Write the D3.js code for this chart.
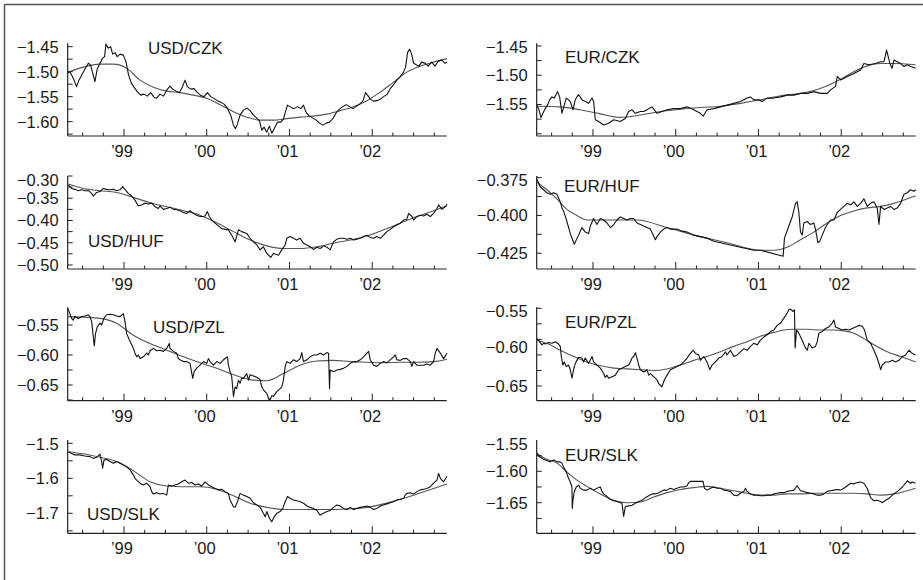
<!DOCTYPE html>
<html><head><meta charset="utf-8">
<script src="https://cdn.jsdelivr.net/npm/d3@7"></script>
<style>
body{margin:0;background:#fff}
svg{display:block}
text{font-family:"Liberation Sans",Arial,Helvetica,sans-serif;fill:#1a1a1a}
</style>
</head><body>
<svg id="chart" width="923" height="580"></svg>
<script>
// ---------- data (decimal year, log exchange rate) ----------
const yearTicks = [1999, 2000, 2001, 2002];
const yearLabels = ["’99", "’00", "’01", "’02"];
const timeDomain = [1998.32, 2002.90];

const usdCzk = [[1998.319,-1.503],[1998.347,-1.500],[1998.387,-1.513],[1998.427,-1.530],[1998.456,-1.517],[1998.488,-1.507],[1998.528,-1.495],[1998.569,-1.483],[1998.597,-1.487],[1998.629,-1.507],[1998.649,-1.520],[1998.677,-1.495],[1998.710,-1.483],[1998.742,-1.473],[1998.766,-1.470],[1998.782,-1.445],[1998.810,-1.453],[1998.839,-1.450],[1998.863,-1.465],[1998.891,-1.462],[1998.919,-1.470],[1998.952,-1.465],[1998.992,-1.467],[1999.024,-1.480],[1999.056,-1.507],[1999.089,-1.523],[1999.121,-1.531],[1999.161,-1.540],[1999.202,-1.547],[1999.242,-1.545],[1999.282,-1.549],[1999.323,-1.542],[1999.363,-1.551],[1999.395,-1.553],[1999.435,-1.545],[1999.476,-1.549],[1999.516,-1.537],[1999.556,-1.529],[1999.589,-1.535],[1999.629,-1.539],[1999.669,-1.542],[1999.710,-1.529],[1999.738,-1.517],[1999.766,-1.530],[1999.806,-1.535],[1999.847,-1.534],[1999.887,-1.542],[1999.927,-1.547],[1999.968,-1.550],[2000.008,-1.542],[2000.048,-1.550],[2000.089,-1.554],[2000.129,-1.558],[2000.169,-1.561],[2000.210,-1.565],[2000.250,-1.573],[2000.290,-1.587],[2000.323,-1.607],[2000.347,-1.614],[2000.371,-1.605],[2000.403,-1.587],[2000.444,-1.577],[2000.484,-1.573],[2000.524,-1.578],[2000.565,-1.587],[2000.605,-1.593],[2000.637,-1.598],[2000.665,-1.617],[2000.694,-1.611],[2000.726,-1.621],[2000.758,-1.609],[2000.786,-1.623],[2000.815,-1.614],[2000.855,-1.601],[2000.895,-1.601],[2000.927,-1.595],[2000.952,-1.580],[2000.976,-1.567],[2001.016,-1.571],[2001.056,-1.574],[2001.097,-1.570],[2001.137,-1.574],[2001.169,-1.567],[2001.202,-1.582],[2001.242,-1.589],[2001.282,-1.593],[2001.323,-1.597],[2001.363,-1.603],[2001.403,-1.607],[2001.444,-1.603],[2001.484,-1.601],[2001.524,-1.594],[2001.565,-1.582],[2001.605,-1.575],[2001.645,-1.570],[2001.685,-1.566],[2001.726,-1.570],[2001.766,-1.574],[2001.806,-1.570],[2001.847,-1.565],[2001.887,-1.559],[2001.919,-1.542],[2001.944,-1.547],[2001.976,-1.555],[2002.016,-1.559],[2002.056,-1.558],[2002.097,-1.555],[2002.137,-1.550],[2002.177,-1.546],[2002.218,-1.534],[2002.258,-1.526],[2002.298,-1.517],[2002.339,-1.510],[2002.379,-1.501],[2002.403,-1.491],[2002.427,-1.462],[2002.452,-1.455],[2002.476,-1.465],[2002.500,-1.483],[2002.532,-1.486],[2002.565,-1.489],[2002.597,-1.481],[2002.637,-1.483],[2002.677,-1.489],[2002.718,-1.481],[2002.758,-1.489],[2002.798,-1.479],[2002.839,-1.477],[2002.879,-1.483],[2002.903,-1.481]];
const usdCzkTrend = [[1998.319,-1.502],[1998.508,-1.491],[1998.710,-1.485],[1998.871,-1.485],[1999.032,-1.493],[1999.194,-1.517],[1999.355,-1.531],[1999.516,-1.539],[1999.677,-1.542],[1999.839,-1.547],[2000.000,-1.553],[2000.161,-1.566],[2000.323,-1.580],[2000.484,-1.591],[2000.645,-1.597],[2000.806,-1.597],[2000.968,-1.594],[2001.129,-1.591],[2001.290,-1.589],[2001.452,-1.585],[2001.613,-1.578],[2001.774,-1.570],[2001.935,-1.558],[2002.097,-1.541],[2002.258,-1.521],[2002.419,-1.501],[2002.581,-1.489],[2002.742,-1.481],[2002.903,-1.474]];

const eurCzk = [[1998.322,-1.551],[1998.347,-1.559],[1998.371,-1.572],[1998.395,-1.565],[1998.423,-1.557],[1998.451,-1.551],[1998.476,-1.542],[1998.504,-1.537],[1998.532,-1.539],[1998.572,-1.528],[1998.597,-1.537],[1998.625,-1.565],[1998.653,-1.551],[1998.677,-1.539],[1998.705,-1.542],[1998.726,-1.545],[1998.758,-1.559],[1998.786,-1.542],[1998.806,-1.537],[1998.826,-1.533],[1998.867,-1.542],[1998.907,-1.545],[1998.947,-1.548],[1998.988,-1.539],[1999.008,-1.545],[1999.028,-1.576],[1999.068,-1.579],[1999.129,-1.585],[1999.189,-1.582],[1999.250,-1.576],[1999.330,-1.579],[1999.391,-1.574],[1999.431,-1.562],[1999.472,-1.559],[1999.512,-1.565],[1999.573,-1.562],[1999.613,-1.562],[1999.653,-1.559],[1999.713,-1.554],[1999.774,-1.565],[1999.834,-1.562],[1999.895,-1.559],[1999.976,-1.557],[2000.056,-1.557],[2000.137,-1.554],[2000.218,-1.559],[2000.298,-1.565],[2000.331,-1.570],[2000.379,-1.559],[2000.460,-1.557],[2000.540,-1.554],[2000.621,-1.551],[2000.702,-1.548],[2000.782,-1.545],[2000.863,-1.539],[2000.903,-1.537],[2000.943,-1.542],[2001.004,-1.542],[2001.044,-1.545],[2001.105,-1.539],[2001.185,-1.539],[2001.266,-1.537],[2001.347,-1.534],[2001.427,-1.534],[2001.508,-1.531],[2001.589,-1.531],[2001.669,-1.528],[2001.750,-1.531],[2001.831,-1.531],[2001.871,-1.525],[2001.931,-1.519],[2001.952,-1.502],[2001.992,-1.508],[2002.073,-1.502],[2002.153,-1.497],[2002.234,-1.491],[2002.274,-1.480],[2002.335,-1.482],[2002.415,-1.480],[2002.476,-1.477],[2002.516,-1.477],[2002.548,-1.457],[2002.589,-1.480],[2002.615,-1.488],[2002.637,-1.474],[2002.677,-1.477],[2002.718,-1.480],[2002.758,-1.485],[2002.798,-1.482],[2002.839,-1.485],[2002.899,-1.488]];
const eurCzkTrend = [[1998.322,-1.553],[1998.605,-1.554],[1998.847,-1.559],[1999.089,-1.566],[1999.330,-1.572],[1999.573,-1.568],[1999.814,-1.562],[2000.056,-1.558],[2000.298,-1.555],[2000.540,-1.553],[2000.782,-1.548],[2001.024,-1.542],[2001.266,-1.535],[2001.508,-1.531],[2001.669,-1.526],[2001.831,-1.518],[2001.992,-1.507],[2002.153,-1.494],[2002.314,-1.484],[2002.476,-1.480],[2002.637,-1.480],[2002.899,-1.482]];

const usdHuf = [[1998.327,-0.320],[1998.367,-0.328],[1998.407,-0.330],[1998.448,-0.333],[1998.488,-0.331],[1998.528,-0.333],[1998.569,-0.333],[1998.609,-0.339],[1998.629,-0.345],[1998.669,-0.337],[1998.710,-0.335],[1998.750,-0.328],[1998.790,-0.330],[1998.831,-0.331],[1998.871,-0.330],[1998.911,-0.333],[1998.952,-0.331],[1998.984,-0.324],[1999.012,-0.330],[1999.052,-0.339],[1999.093,-0.345],[1999.133,-0.354],[1999.153,-0.361],[1999.173,-0.367],[1999.214,-0.365],[1999.254,-0.361],[1999.294,-0.363],[1999.335,-0.361],[1999.375,-0.369],[1999.415,-0.373],[1999.435,-0.367],[1999.476,-0.375],[1999.516,-0.373],[1999.556,-0.370],[1999.597,-0.375],[1999.637,-0.376],[1999.677,-0.378],[1999.718,-0.382],[1999.758,-0.384],[1999.798,-0.378],[1999.839,-0.384],[1999.879,-0.388],[1999.919,-0.391],[1999.960,-0.391],[1999.980,-0.390],[2000.008,-0.380],[2000.032,-0.391],[2000.060,-0.399],[2000.101,-0.406],[2000.141,-0.412],[2000.181,-0.418],[2000.222,-0.420],[2000.262,-0.421],[2000.302,-0.433],[2000.343,-0.448],[2000.383,-0.421],[2000.423,-0.425],[2000.484,-0.429],[2000.524,-0.440],[2000.565,-0.448],[2000.605,-0.455],[2000.645,-0.466],[2000.685,-0.459],[2000.726,-0.474],[2000.774,-0.483],[2000.806,-0.474],[2000.867,-0.478],[2000.907,-0.466],[2000.948,-0.455],[2000.968,-0.440],[2001.008,-0.436],[2001.048,-0.440],[2001.089,-0.444],[2001.129,-0.440],[2001.169,-0.451],[2001.210,-0.455],[2001.250,-0.459],[2001.290,-0.465],[2001.331,-0.460],[2001.371,-0.463],[2001.411,-0.457],[2001.452,-0.460],[2001.492,-0.466],[2001.532,-0.448],[2001.573,-0.442],[2001.613,-0.440],[2001.653,-0.440],[2001.694,-0.442],[2001.734,-0.440],[2001.774,-0.444],[2001.815,-0.442],[2001.855,-0.440],[2001.895,-0.436],[2001.935,-0.433],[2001.976,-0.438],[2002.016,-0.440],[2002.056,-0.436],[2002.097,-0.440],[2002.137,-0.433],[2002.177,-0.425],[2002.218,-0.420],[2002.258,-0.414],[2002.298,-0.410],[2002.339,-0.406],[2002.379,-0.399],[2002.419,-0.397],[2002.440,-0.384],[2002.480,-0.391],[2002.500,-0.399],[2002.540,-0.391],[2002.581,-0.388],[2002.621,-0.390],[2002.661,-0.386],[2002.702,-0.391],[2002.742,-0.384],[2002.782,-0.373],[2002.802,-0.365],[2002.843,-0.375],[2002.883,-0.369],[2002.903,-0.363]];
const usdHufTrend = [[1998.327,-0.318],[1998.508,-0.328],[1998.710,-0.333],[1998.911,-0.337],[1999.113,-0.348],[1999.315,-0.360],[1999.516,-0.369],[1999.718,-0.378],[1999.919,-0.388],[2000.121,-0.405],[2000.323,-0.425],[2000.524,-0.444],[2000.726,-0.457],[2000.927,-0.463],[2001.129,-0.463],[2001.331,-0.459],[2001.532,-0.451],[2001.734,-0.444],[2001.935,-0.435],[2002.137,-0.421],[2002.339,-0.406],[2002.540,-0.391],[2002.742,-0.378],[2002.903,-0.367]];

const eurHuf = [[1998.322,-0.376],[1998.363,-0.381],[1998.403,-0.383],[1998.443,-0.385],[1998.484,-0.386],[1998.524,-0.385],[1998.564,-0.386],[1998.605,-0.391],[1998.625,-0.395],[1998.645,-0.397],[1998.685,-0.404],[1998.726,-0.412],[1998.774,-0.419],[1998.826,-0.413],[1998.867,-0.408],[1998.907,-0.411],[1998.947,-0.412],[1998.968,-0.407],[1999.008,-0.402],[1999.048,-0.406],[1999.089,-0.402],[1999.129,-0.403],[1999.169,-0.405],[1999.210,-0.408],[1999.250,-0.406],[1999.290,-0.403],[1999.330,-0.401],[1999.371,-0.402],[1999.411,-0.403],[1999.451,-0.402],[1999.492,-0.402],[1999.532,-0.405],[1999.573,-0.406],[1999.613,-0.407],[1999.653,-0.408],[1999.693,-0.409],[1999.754,-0.416],[1999.774,-0.414],[1999.814,-0.411],[1999.855,-0.409],[1999.895,-0.408],[1999.935,-0.409],[1999.976,-0.409],[2000.016,-0.409],[2000.056,-0.410],[2000.137,-0.411],[2000.218,-0.413],[2000.298,-0.414],[2000.379,-0.415],[2000.460,-0.417],[2000.540,-0.418],[2000.621,-0.419],[2000.702,-0.420],[2000.782,-0.421],[2000.863,-0.422],[2000.943,-0.423],[2001.024,-0.423],[2001.298,-0.427],[2001.314,-0.415],[2001.367,-0.407],[2001.407,-0.401],[2001.448,-0.392],[2001.468,-0.391],[2001.488,-0.398],[2001.508,-0.411],[2001.528,-0.413],[2001.548,-0.405],[2001.589,-0.404],[2001.629,-0.406],[2001.669,-0.405],[2001.689,-0.409],[2001.718,-0.418],[2001.742,-0.417],[2001.770,-0.413],[2001.810,-0.408],[2001.831,-0.406],[2001.871,-0.403],[2001.911,-0.403],[2001.952,-0.398],[2001.992,-0.396],[2002.032,-0.394],[2002.073,-0.392],[2002.113,-0.393],[2002.153,-0.391],[2002.194,-0.394],[2002.234,-0.392],[2002.274,-0.389],[2002.314,-0.394],[2002.355,-0.392],[2002.395,-0.391],[2002.435,-0.395],[2002.456,-0.406],[2002.476,-0.394],[2002.516,-0.396],[2002.556,-0.395],[2002.597,-0.394],[2002.637,-0.396],[2002.677,-0.395],[2002.718,-0.392],[2002.758,-0.386],[2002.798,-0.385],[2002.839,-0.383],[2002.879,-0.384],[2002.899,-0.383]];
const eurHufTrend = [[1998.322,-0.378],[1998.443,-0.383],[1998.564,-0.389],[1998.685,-0.396],[1998.806,-0.400],[1998.927,-0.403],[1999.008,-0.403],[1999.532,-0.403],[1999.895,-0.408],[2000.218,-0.413],[2000.621,-0.418],[2001.024,-0.423],[2001.185,-0.423],[2001.347,-0.421],[2001.508,-0.416],[2001.669,-0.411],[2001.831,-0.405],[2001.992,-0.400],[2002.153,-0.397],[2002.314,-0.395],[2002.476,-0.394],[2002.637,-0.392],[2002.798,-0.389],[2002.899,-0.387]];

const usdPzl = [[1998.319,-0.522],[1998.347,-0.531],[1998.367,-0.539],[1998.387,-0.542],[1998.407,-0.536],[1998.448,-0.539],[1998.488,-0.536],[1998.528,-0.535],[1998.569,-0.533],[1998.589,-0.536],[1998.609,-0.544],[1998.629,-0.569],[1998.641,-0.585],[1998.657,-0.564],[1998.677,-0.553],[1998.710,-0.547],[1998.730,-0.550],[1998.758,-0.539],[1998.790,-0.533],[1998.831,-0.532],[1998.871,-0.533],[1998.911,-0.535],[1998.952,-0.536],[1998.992,-0.531],[1999.012,-0.544],[1999.032,-0.564],[1999.065,-0.575],[1999.093,-0.583],[1999.113,-0.589],[1999.133,-0.597],[1999.153,-0.603],[1999.173,-0.600],[1999.194,-0.606],[1999.234,-0.603],[1999.274,-0.597],[1999.294,-0.600],[1999.315,-0.593],[1999.355,-0.589],[1999.395,-0.593],[1999.435,-0.592],[1999.476,-0.594],[1999.516,-0.589],[1999.548,-0.581],[1999.556,-0.589],[1999.597,-0.594],[1999.637,-0.597],[1999.657,-0.606],[1999.677,-0.608],[1999.718,-0.611],[1999.758,-0.611],[1999.798,-0.614],[1999.831,-0.639],[1999.847,-0.628],[1999.879,-0.622],[1999.919,-0.617],[1999.960,-0.611],[2000.000,-0.614],[2000.020,-0.606],[2000.040,-0.611],[2000.081,-0.617],[2000.121,-0.611],[2000.161,-0.614],[2000.202,-0.608],[2000.250,-0.603],[2000.262,-0.617],[2000.282,-0.628],[2000.302,-0.636],[2000.323,-0.669],[2000.343,-0.653],[2000.363,-0.656],[2000.383,-0.642],[2000.403,-0.647],[2000.423,-0.639],[2000.444,-0.639],[2000.484,-0.631],[2000.504,-0.642],[2000.524,-0.633],[2000.565,-0.635],[2000.605,-0.637],[2000.645,-0.641],[2000.665,-0.653],[2000.685,-0.658],[2000.726,-0.664],[2000.746,-0.672],[2000.766,-0.675],[2000.786,-0.668],[2000.806,-0.669],[2000.847,-0.661],[2000.887,-0.656],[2000.907,-0.653],[2000.927,-0.642],[2000.948,-0.619],[2000.968,-0.611],[2001.008,-0.614],[2001.048,-0.608],[2001.089,-0.611],[2001.129,-0.606],[2001.149,-0.596],[2001.169,-0.611],[2001.210,-0.608],[2001.250,-0.603],[2001.290,-0.600],[2001.331,-0.600],[2001.371,-0.597],[2001.411,-0.600],[2001.452,-0.596],[2001.472,-0.597],[2001.484,-0.656],[2001.492,-0.625],[2001.532,-0.628],[2001.573,-0.625],[2001.613,-0.624],[2001.653,-0.622],[2001.694,-0.619],[2001.734,-0.614],[2001.774,-0.611],[2001.815,-0.611],[2001.855,-0.608],[2001.895,-0.603],[2001.935,-0.597],[2001.956,-0.594],[2001.976,-0.608],[2002.016,-0.617],[2002.056,-0.619],[2002.097,-0.614],[2002.137,-0.611],[2002.177,-0.613],[2002.218,-0.608],[2002.258,-0.603],[2002.278,-0.600],[2002.298,-0.608],[2002.339,-0.609],[2002.379,-0.606],[2002.419,-0.606],[2002.460,-0.611],[2002.480,-0.619],[2002.500,-0.611],[2002.540,-0.617],[2002.581,-0.617],[2002.621,-0.617],[2002.661,-0.615],[2002.702,-0.617],[2002.742,-0.611],[2002.762,-0.597],[2002.782,-0.589],[2002.823,-0.597],[2002.863,-0.606],[2002.903,-0.597]];
const usdPzlTrend = [[1998.319,-0.536],[1998.508,-0.537],[1998.710,-0.539],[1998.911,-0.547],[1999.113,-0.567],[1999.315,-0.581],[1999.516,-0.592],[1999.718,-0.603],[1999.919,-0.613],[2000.121,-0.622],[2000.323,-0.633],[2000.524,-0.641],[2000.726,-0.643],[2000.927,-0.631],[2001.129,-0.617],[2001.331,-0.610],[2001.532,-0.609],[2001.734,-0.611],[2001.935,-0.612],[2002.137,-0.613],[2002.339,-0.612],[2002.540,-0.612],[2002.742,-0.611],[2002.903,-0.607]];

const eurPzl = [[1998.322,-0.589],[1998.355,-0.593],[1998.383,-0.597],[1998.403,-0.595],[1998.423,-0.596],[1998.464,-0.594],[1998.504,-0.595],[1998.544,-0.593],[1998.584,-0.596],[1998.605,-0.599],[1998.617,-0.612],[1998.637,-0.623],[1998.653,-0.619],[1998.677,-0.625],[1998.705,-0.623],[1998.726,-0.629],[1998.746,-0.640],[1998.766,-0.629],[1998.786,-0.621],[1998.806,-0.617],[1998.826,-0.613],[1998.867,-0.614],[1998.887,-0.619],[1998.907,-0.614],[1998.947,-0.621],[1998.988,-0.612],[1999.008,-0.619],[1999.048,-0.623],[1999.089,-0.627],[1999.129,-0.634],[1999.149,-0.639],[1999.169,-0.636],[1999.189,-0.640],[1999.230,-0.638],[1999.270,-0.636],[1999.310,-0.629],[1999.351,-0.627],[1999.391,-0.625],[1999.431,-0.623],[1999.451,-0.619],[1999.472,-0.614],[1999.492,-0.612],[1999.512,-0.607],[1999.532,-0.614],[1999.552,-0.623],[1999.573,-0.629],[1999.613,-0.632],[1999.653,-0.629],[1999.673,-0.636],[1999.693,-0.634],[1999.734,-0.638],[1999.774,-0.642],[1999.794,-0.647],[1999.814,-0.649],[1999.834,-0.651],[1999.863,-0.642],[1999.895,-0.636],[1999.935,-0.629],[1999.976,-0.627],[2000.016,-0.625],[2000.056,-0.623],[2000.097,-0.619],[2000.137,-0.614],[2000.177,-0.608],[2000.210,-0.604],[2000.238,-0.608],[2000.278,-0.610],[2000.298,-0.617],[2000.339,-0.612],[2000.379,-0.619],[2000.411,-0.629],[2000.439,-0.623],[2000.480,-0.619],[2000.520,-0.614],[2000.560,-0.612],[2000.601,-0.606],[2000.621,-0.610],[2000.661,-0.604],[2000.702,-0.612],[2000.742,-0.610],[2000.782,-0.606],[2000.823,-0.602],[2000.863,-0.604],[2000.903,-0.599],[2000.943,-0.595],[2000.984,-0.597],[2001.024,-0.591],[2001.064,-0.587],[2001.105,-0.584],[2001.145,-0.580],[2001.185,-0.578],[2001.226,-0.572],[2001.266,-0.569],[2001.306,-0.563],[2001.347,-0.556],[2001.367,-0.552],[2001.387,-0.551],[2001.415,-0.554],[2001.435,-0.552],[2001.443,-0.601],[2001.460,-0.578],[2001.488,-0.582],[2001.528,-0.591],[2001.568,-0.601],[2001.589,-0.604],[2001.609,-0.595],[2001.649,-0.601],[2001.689,-0.599],[2001.710,-0.593],[2001.730,-0.582],[2001.770,-0.580],[2001.810,-0.576],[2001.851,-0.574],[2001.891,-0.569],[2001.911,-0.565],[2001.931,-0.574],[2001.972,-0.576],[2002.012,-0.578],[2002.052,-0.577],[2002.093,-0.578],[2002.133,-0.576],[2002.173,-0.574],[2002.214,-0.572],[2002.254,-0.573],[2002.282,-0.578],[2002.314,-0.591],[2002.355,-0.595],[2002.395,-0.604],[2002.427,-0.612],[2002.456,-0.621],[2002.476,-0.629],[2002.496,-0.623],[2002.536,-0.619],[2002.577,-0.619],[2002.617,-0.617],[2002.657,-0.619],[2002.698,-0.617],[2002.738,-0.612],[2002.778,-0.610],[2002.818,-0.604],[2002.859,-0.608],[2002.899,-0.610]];
const eurPzlTrend = [[1998.322,-0.591],[1998.484,-0.597],[1998.605,-0.604],[1998.766,-0.612],[1998.927,-0.619],[1999.089,-0.624],[1999.250,-0.627],[1999.411,-0.628],[1999.573,-0.629],[1999.734,-0.630],[1999.895,-0.628],[2000.056,-0.623],[2000.218,-0.617],[2000.379,-0.612],[2000.540,-0.606],[2000.702,-0.599],[2000.863,-0.593],[2001.024,-0.586],[2001.185,-0.581],[2001.306,-0.578],[2001.427,-0.577],[2001.589,-0.577],[2001.750,-0.578],[2001.911,-0.578],[2002.032,-0.579],[2002.153,-0.582],[2002.274,-0.589],[2002.395,-0.597],[2002.556,-0.606],[2002.718,-0.612],[2002.899,-0.619]];

const usdSlk = [[1998.327,-1.524],[1998.367,-1.529],[1998.407,-1.533],[1998.468,-1.533],[1998.528,-1.536],[1998.589,-1.538],[1998.629,-1.543],[1998.669,-1.540],[1998.710,-1.531],[1998.730,-1.552],[1998.742,-1.571],[1998.758,-1.548],[1998.790,-1.546],[1998.831,-1.552],[1998.871,-1.557],[1998.911,-1.552],[1998.952,-1.557],[1998.992,-1.562],[1999.032,-1.567],[1999.073,-1.576],[1999.113,-1.590],[1999.133,-1.600],[1999.153,-1.605],[1999.194,-1.614],[1999.234,-1.619],[1999.274,-1.614],[1999.315,-1.624],[1999.335,-1.638],[1999.355,-1.645],[1999.395,-1.641],[1999.435,-1.645],[1999.476,-1.643],[1999.516,-1.648],[1999.536,-1.619],[1999.577,-1.622],[1999.617,-1.619],[1999.657,-1.616],[1999.698,-1.610],[1999.738,-1.605],[1999.778,-1.614],[1999.819,-1.612],[1999.859,-1.619],[1999.899,-1.616],[1999.940,-1.622],[1999.980,-1.610],[2000.020,-1.619],[2000.060,-1.624],[2000.101,-1.629],[2000.141,-1.633],[2000.181,-1.631],[2000.222,-1.638],[2000.262,-1.643],[2000.282,-1.662],[2000.323,-1.681],[2000.343,-1.683],[2000.371,-1.667],[2000.403,-1.643],[2000.444,-1.648],[2000.484,-1.652],[2000.524,-1.657],[2000.565,-1.670],[2000.605,-1.676],[2000.645,-1.683],[2000.685,-1.700],[2000.706,-1.710],[2000.726,-1.695],[2000.758,-1.714],[2000.786,-1.724],[2000.815,-1.710],[2000.847,-1.700],[2000.887,-1.695],[2000.919,-1.686],[2000.948,-1.667],[2000.976,-1.652],[2001.008,-1.657],[2001.048,-1.662],[2001.089,-1.664],[2001.129,-1.667],[2001.169,-1.671],[2001.210,-1.679],[2001.250,-1.683],[2001.290,-1.686],[2001.331,-1.692],[2001.371,-1.705],[2001.411,-1.700],[2001.452,-1.695],[2001.492,-1.692],[2001.532,-1.683],[2001.573,-1.676],[2001.613,-1.679],[2001.653,-1.686],[2001.694,-1.689],[2001.734,-1.683],[2001.774,-1.689],[2001.815,-1.686],[2001.855,-1.683],[2001.895,-1.681],[2001.935,-1.679],[2001.976,-1.683],[2002.016,-1.689],[2002.056,-1.686],[2002.097,-1.679],[2002.137,-1.676],[2002.177,-1.673],[2002.218,-1.670],[2002.258,-1.667],[2002.298,-1.662],[2002.339,-1.660],[2002.379,-1.657],[2002.399,-1.648],[2002.419,-1.643],[2002.460,-1.641],[2002.500,-1.645],[2002.540,-1.638],[2002.581,-1.633],[2002.621,-1.631],[2002.661,-1.629],[2002.702,-1.624],[2002.742,-1.614],[2002.782,-1.605],[2002.802,-1.586],[2002.823,-1.600],[2002.863,-1.610],[2002.903,-1.595]];
const usdSlkTrend = [[1998.327,-1.524],[1998.508,-1.530],[1998.710,-1.540],[1998.911,-1.552],[1999.113,-1.578],[1999.315,-1.610],[1999.516,-1.622],[1999.718,-1.624],[1999.919,-1.624],[2000.121,-1.631],[2000.323,-1.650],[2000.524,-1.671],[2000.726,-1.683],[2000.927,-1.689],[2001.129,-1.689],[2001.331,-1.689],[2001.532,-1.689],[2001.734,-1.687],[2001.935,-1.683],[2002.137,-1.673],[2002.339,-1.660],[2002.540,-1.645],[2002.742,-1.629],[2002.903,-1.616]];

const eurSlk = [[1998.322,-1.571],[1998.343,-1.576],[1998.371,-1.578],[1998.403,-1.581],[1998.443,-1.583],[1998.484,-1.585],[1998.504,-1.583],[1998.532,-1.582],[1998.564,-1.585],[1998.605,-1.585],[1998.625,-1.587],[1998.645,-1.593],[1998.665,-1.598],[1998.685,-1.604],[1998.705,-1.611],[1998.726,-1.617],[1998.746,-1.625],[1998.750,-1.659],[1998.758,-1.646],[1998.774,-1.633],[1998.798,-1.625],[1998.826,-1.622],[1998.847,-1.627],[1998.887,-1.630],[1998.927,-1.630],[1998.968,-1.627],[1999.008,-1.630],[1999.048,-1.627],[1999.089,-1.625],[1999.109,-1.632],[1999.129,-1.636],[1999.169,-1.640],[1999.210,-1.645],[1999.250,-1.647],[1999.290,-1.648],[1999.330,-1.650],[1999.351,-1.651],[1999.371,-1.672],[1999.391,-1.656],[1999.431,-1.655],[1999.472,-1.654],[1999.512,-1.651],[1999.552,-1.648],[1999.593,-1.646],[1999.633,-1.642],[1999.673,-1.639],[1999.713,-1.636],[1999.754,-1.636],[1999.794,-1.634],[1999.855,-1.630],[1999.895,-1.630],[1999.935,-1.627],[1999.976,-1.629],[2000.016,-1.627],[2000.056,-1.625],[2000.097,-1.625],[2000.137,-1.623],[2000.157,-1.618],[2000.177,-1.616],[2000.218,-1.616],[2000.258,-1.616],[2000.298,-1.616],[2000.331,-1.616],[2000.347,-1.627],[2000.379,-1.630],[2000.419,-1.627],[2000.460,-1.625],[2000.500,-1.627],[2000.540,-1.627],[2000.581,-1.630],[2000.621,-1.631],[2000.661,-1.632],[2000.702,-1.638],[2000.742,-1.639],[2000.782,-1.635],[2000.823,-1.632],[2000.843,-1.627],[2000.863,-1.632],[2000.903,-1.636],[2000.943,-1.638],[2000.984,-1.638],[2001.024,-1.639],[2001.064,-1.639],[2001.105,-1.638],[2001.145,-1.638],[2001.185,-1.636],[2001.226,-1.635],[2001.266,-1.634],[2001.306,-1.634],[2001.347,-1.632],[2001.387,-1.631],[2001.427,-1.630],[2001.468,-1.623],[2001.508,-1.631],[2001.548,-1.632],[2001.589,-1.634],[2001.629,-1.635],[2001.669,-1.636],[2001.710,-1.638],[2001.750,-1.638],[2001.790,-1.636],[2001.831,-1.632],[2001.871,-1.631],[2001.911,-1.630],[2001.952,-1.629],[2001.992,-1.630],[2002.032,-1.627],[2002.073,-1.623],[2002.113,-1.619],[2002.153,-1.620],[2002.194,-1.618],[2002.234,-1.617],[2002.274,-1.619],[2002.314,-1.627],[2002.335,-1.635],[2002.355,-1.642],[2002.395,-1.647],[2002.435,-1.646],[2002.476,-1.648],[2002.496,-1.650],[2002.536,-1.646],[2002.577,-1.643],[2002.617,-1.638],[2002.657,-1.634],[2002.698,-1.630],[2002.738,-1.625],[2002.778,-1.619],[2002.798,-1.615],[2002.818,-1.617],[2002.839,-1.619],[2002.859,-1.617],[2002.899,-1.619]];
const eurSlkTrend = [[1998.322,-1.572],[1998.443,-1.581],[1998.564,-1.587],[1998.685,-1.601],[1998.806,-1.614],[1998.927,-1.624],[1999.089,-1.636],[1999.250,-1.646],[1999.411,-1.650],[1999.573,-1.649],[1999.734,-1.641],[1999.895,-1.634],[2000.056,-1.629],[2000.218,-1.626],[2000.379,-1.624],[2000.540,-1.627],[2000.702,-1.631],[2000.863,-1.635],[2001.024,-1.638],[2001.185,-1.638],[2001.347,-1.636],[2001.508,-1.636],[2001.669,-1.635],[2001.831,-1.635],[2001.992,-1.635],[2002.153,-1.635],[2002.314,-1.636],[2002.476,-1.638],[2002.637,-1.636],[2002.798,-1.631],[2002.899,-1.627]];

// ---------- panel definitions ----------
const panels = [
  {title:"USD/CZK", rate:usdCzk, trend:usdCzkTrend, col:0, row:0, domain:[-1.6287,-1.4433], labels:[-1.45,-1.50,-1.55,-1.60], dec:2, tickStep:0.025, titleAt:[148,54]},
  {title:"EUR/CZK", rate:eurCzk, trend:eurCzkTrend, col:1, row:0, domain:[-1.6038,-1.4454], labels:[-1.45,-1.50,-1.55], dec:2, tickStep:0.025, titleAt:[565,63]},
  {title:"USD/HUF", rate:usdHuf, trend:usdHufTrend, col:0, row:1, domain:[-0.509,-0.30], labels:[-0.30,-0.35,-0.40,-0.45,-0.50], dec:2, tickStep:0.025, titleAt:[88,247]},
  {title:"EUR/HUF", rate:eurHuf, trend:eurHufTrend, col:1, row:1, domain:[-0.4354,-0.3739], labels:[-0.375,-0.400,-0.425], dec:3, tickStep:0.0125, titleAt:[564,192]},
  {title:"USD/PZL", rate:usdPzl, trend:usdPzlTrend, col:0, row:2, domain:[-0.6762,-0.5205], labels:[-0.55,-0.60,-0.65], dec:2, tickStep:0.025, titleAt:[153,333]},
  {title:"EUR/PZL", rate:eurPzl, trend:eurPzlTrend, col:1, row:2, domain:[-0.6689,-0.5487], labels:[-0.55,-0.60,-0.65], dec:2, tickStep:0.02, titleAt:[565,328]},
  {title:"USD/SLK", rate:usdSlk, trend:usdSlkTrend, col:0, row:3, domain:[-1.7571,-1.4905], labels:[-1.5,-1.6,-1.7], dec:1, tickStep:0.05, titleAt:[87,520]},
  {title:"EUR/SLK", rate:eurSlk, trend:eurSlkTrend, col:1, row:3, domain:[-1.6987,-1.5502], labels:[-1.55,-1.60,-1.65], dec:2, tickStep:0.025, titleAt:[565,461]}
];

// ---------- layout ----------
const colX = [67.7, 536.7];
const plotW = 379;
const rowTop = [43.3, 176, 307.3, 440];
const rowBottom = [136, 269, 400.7, 533.3];

const svg = d3.select("#chart");

// outer frame (top and left edges visible)
svg.append("line").attr("x1",4.5).attr("y1",4.5).attr("x2",923).attr("y2",4.5).attr("stroke","#555").attr("stroke-width",1.5);
svg.append("line").attr("x1",4.5).attr("y1",4.5).attr("x2",4.5).attr("y2",580).attr("stroke","#555").attr("stroke-width",1.5);

const fmt = (v, d) => "\u2212" + Math.abs(v).toFixed(d);

panels.forEach(p => {
  const x0 = colX[p.col], top = rowTop[p.row], bottom = rowBottom[p.row];
  const x = d3.scaleLinear().domain(timeDomain).range([x0, x0 + plotW]);
  const y = d3.scaleLinear().domain(p.domain).range([bottom, top]);
  const g = svg.append("g");

  // trend line
  g.append("path").datum(p.trend)
    .attr("fill","none").attr("stroke","#555").attr("stroke-width",1.1)
    .attr("d", d3.line().x(d => x(d[0])).y(d => y(d[1])).curve(d3.curveMonotoneX));
  // rate line
  g.append("path").datum(p.rate)
    .attr("fill","none").attr("stroke","#111").attr("stroke-width",1.1).attr("stroke-linejoin","round")
    .attr("d", d3.line().x(d => x(d[0])).y(d => y(d[1])));

  // axes
  g.append("line").attr("x1",x0).attr("x2",x0).attr("y1",top).attr("y2",bottom).attr("stroke","#222").attr("stroke-width",1.2);
  g.append("line").attr("x1",x0).attr("x2",x0+plotW).attr("y1",bottom).attr("y2",bottom).attr("stroke","#222").attr("stroke-width",1.2);

  // y ticks
  const tv = d3.range(p.labels[0], p.domain[0] - 1e-9, -p.tickStep);
  tv.filter(v => v <= p.domain[1] + 1e-9).forEach(v => {
    g.append("line").attr("x1",x0).attr("x2",x0+5).attr("y1",y(v)).attr("y2",y(v)).attr("stroke","#222").attr("stroke-width",1);
  });
  p.labels.forEach(v => {
    const yy = Math.max(y(v), top + 4);
    g.append("text").attr("x", x0 - 9).attr("y", yy).attr("dy","0.36em")
      .attr("text-anchor","end").attr("font-size",16.5).text(fmt(v, p.dec));
  });

  // x ticks: quarters (minor) and years (major)
  d3.range(1998.5, timeDomain[1], 0.25).forEach(t => {
    const major = Math.abs(t - Math.round(t)) < 1e-6;
    g.append("line").attr("x1",x(t)).attr("x2",x(t)).attr("y1",bottom).attr("y2",bottom - (major ? 7 : 3.5))
      .attr("stroke","#222").attr("stroke-width",1);
  });
  yearTicks.forEach((t, i) => {
    g.append("text").attr("x", x(t) - 2).attr("y", bottom + 21).attr("text-anchor","middle")
      .attr("font-size",16.5).text(yearLabels[i]);
  });

  // title
  g.append("text").attr("x", p.titleAt[0]).attr("y", p.titleAt[1]).attr("font-size",17).text(p.title);
});
</script>
</body></html>
